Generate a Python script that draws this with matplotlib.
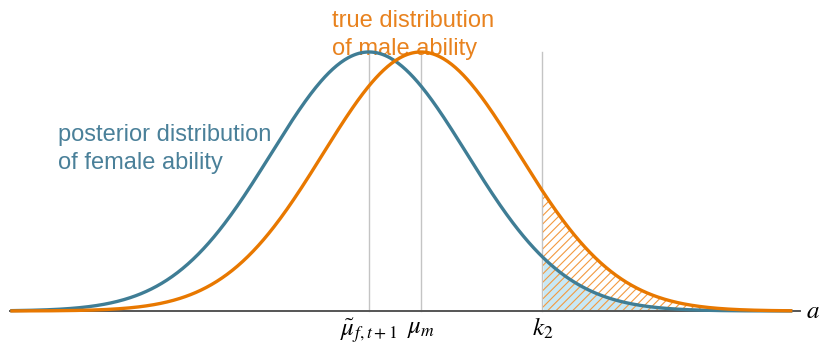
import numpy as np
import matplotlib.pyplot as plt

plt.rcParams["mathtext.fontset"] = "stix"
plt.rcParams["hatch.linewidth"] = 0.8

# ---- parameters (units of sigma) ----
mu_f = 0.0        # posterior mean of female ability
mu_m = 0.53       # true mean of male ability
sigma = 1.0
k2 = 1.77         # threshold
x_lo, x_hi = -3.66, 4.32
tick_pos = [mu_f, mu_m, k2]
tick_labels = [r"$\tilde{\mu}_{f,t+1}$", r"$\mu_m$", r"$k_2$"]
fem_lines = ["posterior distribution", "of female ability"]
male_lines = ["true distribution", "of male ability"]

BLUE = "#3f7d95"
ORANGE = "#e87800"
LIGHTBLUE = "#c8e8f5"


def npdf(x, mu, s):
    return np.exp(-0.5 * ((x - mu) / s) ** 2) / (s * np.sqrt(2 * np.pi))


x = np.linspace(x_lo, x_hi, 600)
f_fem = npdf(x, mu_f, sigma)
f_male = npdf(x, mu_m, sigma)
peak = npdf(0, 0, sigma)

fig = plt.figure(figsize=(8.19, 3.45), dpi=100)
ax = fig.add_axes([0, 0, 1, 1])
ax.set_xlim(-3.765, 4.592)
ax.set_ylim(-0.0524, 0.479)
ax.axis("off")

# vertical guide lines up to peak height
for p in tick_pos:
    ax.plot([p, p], [0, peak], color="#c4c4c4", lw=1.0, zorder=1)

# shaded tail regions
tail = x >= k2
ax.fill_between(x[tail], 0, f_fem[tail], color=LIGHTBLUE, lw=0, zorder=2)
ax.fill_between(x[tail], 0, f_male[tail], facecolor="none", edgecolor="#f39a40",
                hatch="////", lw=0, zorder=3)

# axis line
ax.plot([x_lo, 4.40], [0, 0], color="#555555", lw=1.4, zorder=4)

ax.plot(x, f_fem, color=BLUE, lw=2.4, zorder=5, solid_capstyle="butt")
ax.plot(x, f_male, color=ORANGE, lw=2.4, zorder=6, solid_capstyle="butt")

for p, lab in zip(tick_pos, tick_labels):
    ax.text(p, -0.0075, lab, ha="center", va="top", fontsize=18)
ax.text(4.46, 0.0, r"$a$", ha="left", va="center", fontsize=18)

for yy, line in zip([0.2611, 0.2187], fem_lines):
    ax.text(-3.173, yy, line, color="#4a8099", fontsize=17,
            family="Liberation Sans", ha="left", va="baseline")
for yy, line in zip([0.4379, 0.3943], male_lines):
    ax.text(-0.378, yy, line, color="#e8821e", fontsize=17,
            family="Liberation Sans", ha="left", va="baseline")

fig.savefig("out.png", dpi=100)
